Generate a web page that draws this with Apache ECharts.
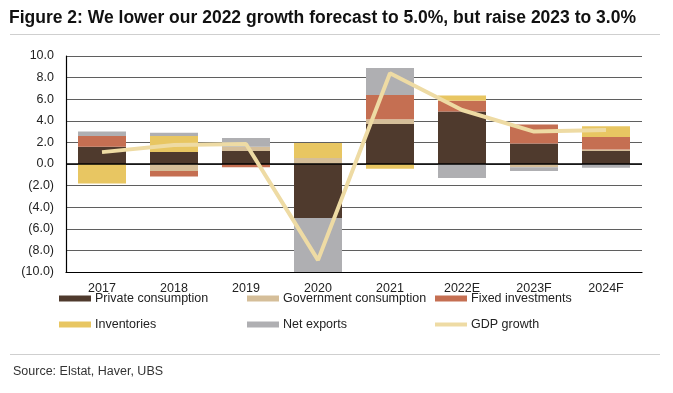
<!DOCTYPE html>
<html>
<head>
<meta charset="utf-8">
<script src="https://cdn.jsdelivr.net/npm/echarts@6/dist/echarts.min.js"></script>
<style>
html,body{margin:0;padding:0;background:#fff;}
#chart{width:673px;height:393px;}
</style>
</head>
<body>
<div id="chart"></div>
<script>
var years = ['2017','2018','2019','2020','2021','2022E','2023F','2024F'];
var privateConsumption = [1.6, 1.1, 1.2, -5.0, 3.7, 4.85, 1.9, 1.2];
var governmentConsumption = [0, -0.65, 0.4, 0.55, 0.45, 0, -0.3, 0.15];
var fixedInvestments = [1.0, -0.5, -0.3, 0, 2.25, 1.0, 1.75, 1.15];
var inventories = [-1.8, 1.5, 0, 1.4, -0.45, 0.5, 0, 1.0];
var netExports = [0.4, 0.3, 0.8, -5.0, 2.5, -1.3, -0.35, -0.35];
var gdpGrowth = [1.1, 1.75, 1.85, -8.9, 8.4, 5.0, 3.0, 3.15];

var FONT = '"Liberation Sans", Arial, sans-serif';
var TXT = '#222';

var chart = echarts.init(document.getElementById('chart'), null, {renderer: 'canvas'});

function barSeries(name, data, color) {
  return {
    name: name, type: 'bar', stack: 'total', data: data,
    barWidth: 48, itemStyle: {color: color}, emphasis: {disabled: true}
  };
}

var seriesList = [
  barSeries('Private consumption', privateConsumption, '#4F3A2D'),
  barSeries('Government consumption', governmentConsumption, '#D5BE99'),
  barSeries('Fixed investments', fixedInvestments, '#C56F52'),
  barSeries('Inventories', inventories, '#E8C662'),
  barSeries('Net exports', netExports, '#AFAFB2'),
  {
    name: 'GDP growth', type: 'line', data: gdpGrowth,
    symbol: 'none', lineStyle: {color: '#EEDBA4', width: 4},
    itemStyle: {color: '#EEDBA4'}, emphasis: {disabled: true}, z: 5
  }
];
seriesList[0].markLine = {
  silent: true, symbol: 'none', label: {show: false},
  lineStyle: {color: '#000', width: 1.5, type: 'solid'},
  data: [{yAxis: 0}]
};

function legendItem(name, left, top, h) {
  return {
    data: [name], left: left, top: top, itemWidth: 32, itemHeight: h || 6,
    icon: 'rect', itemGap: 0, padding: 0, selectedMode: false,
    textStyle: {fontFamily: FONT, fontSize: 12.5, color: TXT, padding: [0, 0, 0, -1]}
  };
}

var option = {
  animation: false,
  title: {
    text: 'Figure 2: We lower our 2022 growth forecast to 5.0%, but raise 2023 to 3.0%',
    left: 9, top: 9, padding: 0,
    textStyle: {fontFamily: FONT, fontSize: 17.5, fontWeight: 'bold', color: '#111'}
  },
  legend: [
    legendItem('Private consumption', 59, 292),
    legendItem('Government consumption', 247, 292),
    legendItem('Fixed investments', 435, 292),
    legendItem('Inventories', 59, 318),
    legendItem('Net exports', 247, 318),
    legendItem('GDP growth', 435, 318, 4)
  ],
  grid: {left: 66, right: 31, top: 56, bottom: 121, containLabel: false},
  xAxis: {
    type: 'category', data: years, boundaryGap: true,
    axisLine: {onZero: false, lineStyle: {color: '#000', width: 1.2}},
    axisTick: {show: false},
    axisLabel: {fontFamily: FONT, fontSize: 12.5, color: TXT, margin: 10, interval: 0},
    splitLine: {show: false}
  },
  yAxis: {
    type: 'value', min: -10, max: 10, interval: 2,
    axisLine: {show: true, lineStyle: {color: '#000', width: 1.2}},
    axisTick: {show: false},
    axisLabel: {
      fontFamily: FONT, fontSize: 12.5, color: TXT, margin: 12,
      formatter: function (v) { return v < 0 ? '(' + Math.abs(v).toFixed(1) + ')' : v.toFixed(1); }
    },
    splitLine: {lineStyle: {color: '#5f5f5f', width: 1}}
  },
  series: seriesList,
  graphic: [
    {type: 'line', shape: {x1: 10, y1: 34.5, x2: 660, y2: 34.5}, style: {stroke: '#cfcfcf', lineWidth: 1}},
    {type: 'line', shape: {x1: 10, y1: 354.5, x2: 660, y2: 354.5}, style: {stroke: '#cfcfcf', lineWidth: 1}},
    {type: 'text', x: 13, y: 372, style: {text: 'Source: Elstat, Haver, UBS', font: '12.5px ' + FONT, fill: '#333', verticalAlign: 'middle'}}
  ]
};
chart.setOption(option);
</script>
</body>
</html>
